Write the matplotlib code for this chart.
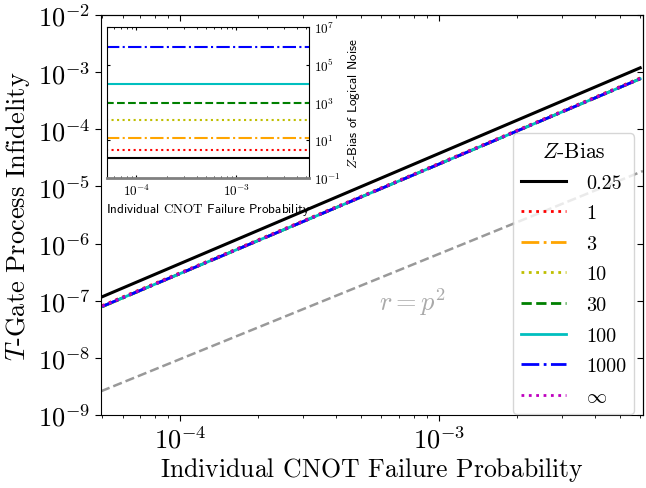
import numpy as np
import matplotlib
matplotlib.use('Agg')
import matplotlib.pyplot as plt
from matplotlib.ticker import FixedLocator, NullLocator, LogLocator

plt.rcParams['font.family'] = 'cmr10'
plt.rcParams['mathtext.fontset'] = 'cm'
plt.rcParams['axes.formatter.use_mathtext'] = True

# Daten
p_werte = [5e-5, 1e-4, 1e-3, 6e-3]
bias_labels = ['0.25', '1', '3', '10', '30', '100', '1000', r'$\infty$']
infid_025 = [1.17e-7, 4.45e-7, 3.76e-5, 1.19e-3]
infid_1 = [8.2e-8, 3.08e-7, 2.52e-5, 7.9e-4]
infid_3 = [7.8e-8, 2.96e-7, 2.44e-5, 7.6e-4]
infid_10 = [7.8e-8, 2.96e-7, 2.44e-5, 7.6e-4]
infid_30 = [7.9e-8, 2.98e-7, 2.45e-5, 7.65e-4]
infid_100 = [7.9e-8, 2.98e-7, 2.45e-5, 7.65e-4]
infid_1000 = [7.9e-8, 2.98e-7, 2.45e-5, 7.65e-4]
infid_inf = [8.0e-8, 3.0e-7, 2.47e-5, 7.7e-4]
ref_p = [4.95e-5, 6.15e-3]
ref_r = [2.6e-9, 1.86e-5]   # Linie "r = p^2"

# logischer Z-Bias (Inset)
logik_bias = [1.1, 3.2, 13.5, 112, 890, 8900, 8.9e5, np.nan]

serien = [infid_025, infid_1, infid_3, infid_10, infid_30, infid_100, infid_1000, infid_inf]
farben = ['k', 'r', 'orange', 'y', 'g', 'c', 'b', 'm']
stile = ['-', ':', '-.', ':', '--', '-', '-.', ':']
breiten = [2.2, 2, 2, 2, 2, 2, 2, 2]

fig = plt.figure(figsize=(6.46, 4.89), dpi=100)
ax = fig.add_axes([0.1563, 0.1493, 0.839, 0.818])

for werte, lab, c, ls, lw in zip(serien, bias_labels, farben, stile, breiten):
    ax.plot(p_werte, werte, color=c, ls=ls, lw=lw, label=lab)
ax.plot(ref_p, ref_r, color='gray', ls='--', lw=1.8, alpha=0.8)
ax.text(7.9e-4, 1.0e-7, r'$r=p^2$', color='darkgray', fontsize=19,
        ha='center', va='center')

ax.set_xscale('log')
ax.set_yscale('log')
ax.set_xlim(4.95e-5, 6.15e-3)
ax.set_ylim(1e-9, 1e-2)
ax.yaxis.set_major_locator(FixedLocator([10.0**k for k in range(-9, -1)]))
ax.yaxis.set_minor_locator(NullLocator())
ax.tick_params(axis='both', which='major', labelsize=19, length=4)
ax.tick_params(axis='x', which='minor', length=2.5)
ax.set_xlabel(r'Individual $\mathrm{CNOT}$ Failure Probability', fontsize=18.5, labelpad=2)
ax.set_ylabel(r'$T$-Gate Process Infidelity', fontsize=19)

# Ticks oben und rechts nach innen
sx = ax.secondary_xaxis('top')
sx.tick_params(which='both', direction='in', labeltop=False)
sx.tick_params(which='major', length=4)
sx.tick_params(which='minor', length=2.5)
sy = ax.secondary_yaxis('right')
sy.yaxis.set_major_locator(FixedLocator([10.0**k for k in range(-9, -1)]))
sy.yaxis.set_minor_locator(NullLocator())
sy.tick_params(which='both', direction='in', labelright=False, length=4)

leg = ax.legend(loc='lower right', bbox_to_anchor=(0.984, 0.003), borderaxespad=0,
                fontsize=14.5, title=r'$Z$-Bias', title_fontsize=15.5,
                handlelength=2.25, labelspacing=0.62, handletextpad=1.0)

# Inset
axi = fig.add_axes([0.1656, 0.634, 0.3127, 0.309])
for b, c, ls, lw in zip(logik_bias, farben, stile, breiten):
    axi.plot(ref_p, [b, b], color=c, ls=ls, lw=1.5)
axi.set_xscale('log')
axi.set_yscale('log')
axi.set_xlim(5.08e-5, 5.3e-3)
axi.set_ylim(1e-1, 1e7)
axi.yaxis.set_major_locator(FixedLocator([1e-1, 1e1, 1e3, 1e5, 1e7]))
axi.yaxis.set_minor_locator(NullLocator())
axi.xaxis.set_minor_locator(LogLocator(subs=np.arange(2, 10)))
axi.tick_params(axis='both', which='both', labelsize=9.5, top=True,
                right=True, left=True, labelleft=False, labelright=True,
                direction='in', length=2.5)
axi.tick_params(axis='x', which='minor', length=1.5)
axi.spines['bottom'].set_color('gray')
axi.spines['bottom'].set_linewidth(2)
axi.set_xlabel(r'Individual $\mathrm{CNOT}$ Failure Probability',
               fontsize=9.5, family='cmss10', labelpad=2)
axi.yaxis.set_label_position('right')
axi.set_ylabel(r'$Z$-Bias of Logical Noise', fontsize=9.5, family='cmss10',
               labelpad=4)

fig.savefig('out.png', dpi=100)
print('fertig')
